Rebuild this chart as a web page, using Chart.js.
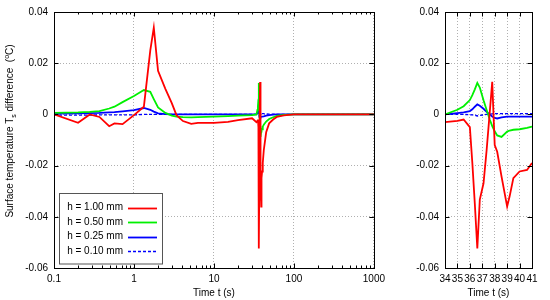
<!DOCTYPE html>
<html lang="en">
<head>
<meta charset="utf-8">
<title>Surface temperature difference</title>
<script src="https://cdn.jsdelivr.net/npm/chart.js@4.4.1/dist/chart.umd.min.js"></script>
<style>
  body { margin: 0; background: #fff; }
  #wrap { position: relative; width: 550px; height: 300px; font-family: "Liberation Sans", Arial, sans-serif; }
  #left { position: absolute; left: 0; top: 0; }
  #right { position: absolute; left: 390px; top: 0; }
  #ylab {
    position: absolute; left: 10px; top: 131px; width: 240px; margin-left: -120px;
    text-align: center; font-size: 10px; line-height: 12px; white-space: nowrap;
    transform: translateY(-6px) rotate(-90deg);
  }
  #ylab sub, #ylab sup { font-size: 7px; line-height: 0; }
</style>
</head>
<body>
<div id="wrap">
  <canvas id="left" width="390" height="300"></canvas>
  <canvas id="right" width="160" height="300"></canvas>
  <div id="ylab">Surface temperature T<sub>s</sub> difference&nbsp; (<sup>o</sup>C)</div>
</div>

<script>
// time points (s)
var time = [0.1, 0.2, 0.28, 0.37, 0.49, 0.57, 0.72, 1.0, 1.33, 1.6, 1.77, 2.0, 2.47, 2.97, 3.4, 4.1, 5.2, 6.3,
            10, 15, 20, 30, 34, 35, 35.5, 36, 36.2, 36.4, 36.6, 36.8, 37.1, 37.35, 37.6, 37.8, 38.0, 38.2, 38.55,
            39.0, 39.2, 39.5, 40.0, 40.6, 41.0, 42, 45, 49, 55, 61, 75, 100, 200, 500, 1000];

// temperature difference (C) per layer thickness
var h100 = [0, -0.0033, 0, -0.001, -0.0046, -0.0035, -0.0038, -0.0003, 0.003, 0.025, 0.0339, 0.017, 0.010, 0.0044, -0.0003, -0.0026, -0.0037, -0.0033,
            -0.0033, -0.0029, -0.0022, -0.0015, -0.003, -0.0025, -0.002, -0.005, -0.019, -0.035, -0.0524, -0.0333, -0.0269, -0.0139, 0.0008, 0.0127, -0.012, -0.0146, -0.0243,
            -0.036, -0.032, -0.0249, -0.0223, -0.0217, -0.019, -0.014, -0.007, -0.0035, -0.002, -0.001, -0.0004, 0, 0, 0, 0];
var h050 = [0.0006, 0.0008, 0.001, 0.0013, 0.0023, 0.003, 0.0048, 0.0072, 0.0095, 0.0088, 0.006, 0.0027, 0.0006, -0.0005, -0.0009, -0.0011, -0.0012, -0.0011,
            -0.0009, -0.0007, -0.0005, -0.0003, 0, 0.0018, 0.0032, 0.0056, 0.0075, 0.0098, 0.0123, 0.0105, 0.0055, 0.0017, -0.002, -0.0046, -0.0066, -0.0082, -0.0088,
            -0.0067, -0.0063, -0.006, -0.0058, -0.0053, -0.0048, -0.004, -0.0028, -0.0018, -0.0011, -0.0006, -0.0002, 0, 0, 0, 0];
var h025 = [0.0003, 0.0004, 0.0005, 0.0006, 0.0008, 0.0009, 0.0012, 0.0017, 0.0025, 0.0018, 0.0011, 0.0004, 0.0001, 0, 0, 0, 0, 0,
            0, 0, 0, 0, 0, 0.0005, 0.0008, 0.0013, 0.002, 0.003, 0.0039, 0.0034, 0.0022, 0.001, 0, -0.0008, -0.0014, -0.0016, -0.0012,
            -0.0009, -0.0009, -0.0009, -0.0009, -0.0009, -0.0009, -0.0008, -0.0005, -0.0003, -0.0001, 0, 0, 0, 0, 0, 0];
var h010 = [-0.0003, -0.0003, -0.0003, -0.0002, -0.0002, -0.0002, -0.0002, -0.0002, 0, 0, 0, 0, 0, 0, 0, 0, 0, 0,
            0, 0, 0, 0, 0, 0, 0, -0.0001, -0.0002, -0.0003, -0.0006, -0.0004, -0.0002, 0, 0.0001, 0.0002, 0.0003, 0.0003, 0.0003,
            0.0003, 0.0003, 0.0003, 0.0003, 0.0003, 0.0003, 0.0003, 0.0002, 0.0001, 0.0001, 0, 0, 0, 0, 0, 0];

var labels = ["h = 1.00 mm", "h = 0.50 mm", "h = 0.25 mm", "h = 0.10 mm"];
var colors = ["#ff0000", "#00f000", "#0000ff", "#0000ff"];
var yTicks = [-0.06, -0.04, -0.02, 0, 0.02, 0.04];
var logTicks = [];
[0.1, 1, 10, 100].forEach(function (d) {
  for (var k = 1; k < 10; k++) logTicks.push(+(k * d).toPrecision(3));
});
logTicks.push(1000);

Chart.defaults.font.family = '"Liberation Sans", Arial, sans-serif';
Chart.defaults.font.size = 10;
Chart.defaults.color = '#000';

function makeDatasets() {
  return [h100, h050, h025, h010].map(function (arr, i) {
    return {
      label: labels[i],
      data: time.map(function (t, j) { return { x: t, y: arr[j] }; }),
      borderColor: colors[i],
      borderWidth: i == 3 ? 1.4 : 1.8,
      borderDash: i == 3 ? [3, 2] : [],
      pointRadius: 0,
      fill: false,
      tension: 0
    };
  });
}

function isPow10(v) {
  var l = Math.log10(v);
  return Math.abs(l - Math.round(l)) < 1e-6;
}

// box round the plot plus gnuplot-like inner ticks
var frame = {
  id: 'frame',
  afterDatasetsDraw: function (chart) {
    var ctx = chart.ctx, a = chart.chartArea, x = chart.scales.x, y = chart.scales.y;
    ctx.save();
    ctx.strokeStyle = '#000';
    ctx.lineWidth = 1;
    ctx.beginPath();
    x.ticks.forEach(function (t) {
      var px = Math.round(x.getPixelForValue(t.value)) + 0.5;
      var len = (x.type == 'logarithmic' && !isPow10(t.value)) ? 2.5 : 4.5;
      ctx.moveTo(px, a.bottom); ctx.lineTo(px, a.bottom - len);
      ctx.moveTo(px, a.top); ctx.lineTo(px, a.top + len);
    });
    y.ticks.forEach(function (t) {
      var py = Math.round(y.getPixelForValue(t.value)) + 0.5;
      ctx.moveTo(a.left, py); ctx.lineTo(a.left + 4.5, py);
      ctx.moveTo(a.right, py); ctx.lineTo(a.right - 4.5, py);
    });
    ctx.stroke();
    ctx.strokeRect(Math.round(a.left) + 0.5, Math.round(a.top) + 0.5,
                   Math.round(a.right - a.left), Math.round(a.bottom - a.top));
    ctx.restore();
  }
};

// legend box: text first, then a line sample
var boxLegend = {
  id: 'boxLegend',
  afterDraw: function (chart) {
    var ctx = chart.ctx;
    ctx.save();
    ctx.fillStyle = '#fff';
    ctx.fillRect(59.5, 193.5, 103, 70.5);
    ctx.strokeStyle = '#555';
    ctx.lineWidth = 1;
    ctx.strokeRect(59.5, 193.5, 103, 70.5);
    ctx.font = '10px "Liberation Sans", Arial, sans-serif';
    ctx.textAlign = 'right';
    ctx.textBaseline = 'middle';
    chart.data.datasets.forEach(function (ds, i) {
      var yy = 207.5 + i * 14.6;
      ctx.fillStyle = '#000';
      ctx.fillText(ds.label, 123, yy);
      ctx.strokeStyle = ds.borderColor;
      ctx.lineWidth = ds.borderWidth;
      ctx.setLineDash(ds.borderDash);
      ctx.beginPath();
      ctx.moveTo(128, Math.round(yy) + 0.5);
      ctx.lineTo(157, Math.round(yy) + 0.5);
      ctx.stroke();
      ctx.setLineDash([]);
    });
    ctx.restore();
  }
};

var yScale = function (w) {
  return {
    type: 'linear', min: -0.06, max: 0.04,
    afterBuildTicks: function (s) { s.ticks = yTicks.map(function (v) { return { value: v }; }); },
    afterFit: function (s) { s.width = w; },
    ticks: {
      padding: 6,
      callback: function (v) { return Math.abs(v) < 1e-9 ? '0' : v.toFixed(2); }
    },
    grid: { color: '#b0b0b0', drawTicks: false },
    border: { display: false, dash: [1, 2] }
  };
};

var xTitle = { display: true, text: 'Time t (s)', padding: { top: 2, bottom: 1 } };

new Chart(document.getElementById('left'), {
  type: 'line',
  data: { datasets: makeDatasets() },
  options: {
    responsive: false,
    animation: false,
    layout: { padding: { left: 0, top: 12, right: 12, bottom: 0 } },
    plugins: { legend: { display: false }, tooltip: { enabled: false } },
    scales: {
      x: {
        type: 'logarithmic', min: 0.1, max: 1000,
        afterBuildTicks: function (s) { s.ticks = logTicks.map(function (v) { return { value: v }; }); },
        afterFit: function (s) { s.height = 32; },
        ticks: {
          autoSkip: false, maxRotation: 0, padding: 5,
          callback: function (v) { return isPow10(v) ? String(v) : ''; }
        },
        grid: {
          drawTicks: false,
          color: function (c) { return c.tick && isPow10(c.tick.value) ? '#b0b0b0' : 'rgba(0,0,0,0)'; }
        },
        border: { display: false, dash: [1, 2] },
        title: xTitle
      },
      y: yScale(54)
    }
  },
  plugins: [frame, boxLegend]
});

new Chart(document.getElementById('right'), {
  type: 'line',
  data: { datasets: makeDatasets() },
  options: {
    responsive: false,
    animation: false,
    layout: { padding: { left: 0, top: 12, right: 18, bottom: 0 } },
    plugins: { legend: { display: false }, tooltip: { enabled: false } },
    scales: {
      x: {
        type: 'linear', min: 34, max: 41,
        afterFit: function (s) { s.height = 32; },
        ticks: { stepSize: 1, autoSkip: false, maxRotation: 0, padding: 5 },
        grid: { color: '#b0b0b0', drawTicks: false },
        border: { display: false, dash: [1, 2] },
        title: xTitle
      },
      y: yScale(55)
    }
  },
  plugins: [frame]
});
</script>
</body>
</html>
